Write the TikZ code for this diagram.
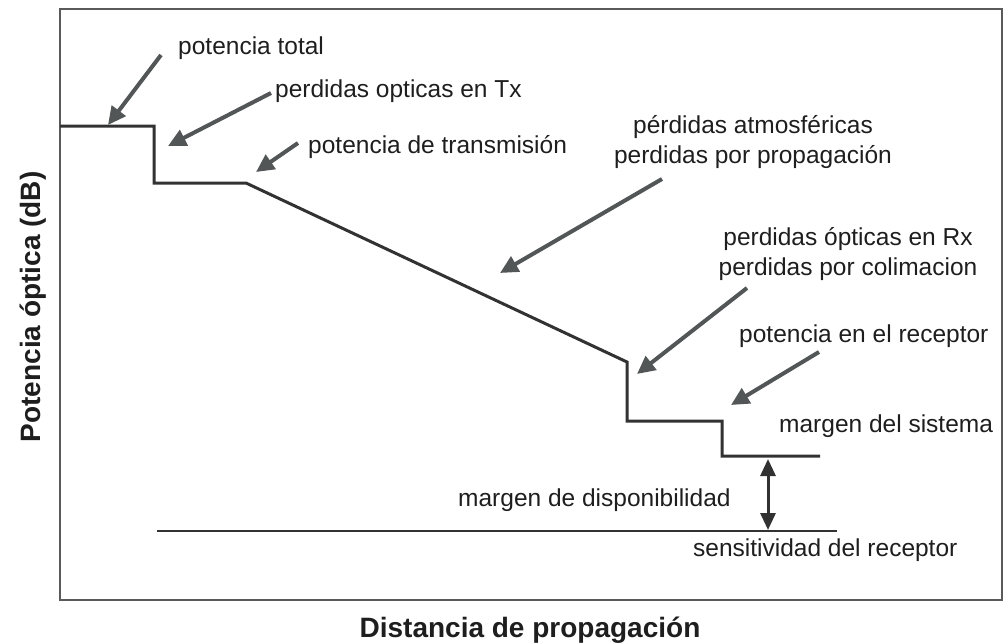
\documentclass[tikz,border=0pt]{standalone}
\usepackage{fontspec}
\setmainfont{Liberation Sans}
\usetikzlibrary{arrows.meta}
\definecolor{arrowgray}{RGB}{82,86,86}
\definecolor{linegray}{RGB}{50,50,50}
\definecolor{framegray}{RGB}{90,90,90}
\definecolor{textgray}{RGB}{30,30,30}
\tikzset{
  lbl/.style={inner sep=0pt, text=textgray, font=\fontsize{24.5}{30}\selectfont, anchor=base west},
  clbl/.style={inner sep=0pt, text=textgray, font=\fontsize{24.5}{30}\selectfont, align=center, anchor=base},
  axlbl/.style={inner sep=0pt, text=textgray, font=\fontsize{28}{32}\selectfont\bfseries, anchor=base},
  callout/.style={draw=arrowgray, line width=4pt, -{Triangle[length=18pt,width=17pt]}},
  stair/.style={draw=linegray, line width=3pt, line join=miter},
  dbl/.style={draw=linegray, line width=3pt, {Triangle[length=17pt,width=15pt]}-{Triangle[length=17pt,width=15pt]}},
}
\begin{document}
\begin{tikzpicture}[x=1pt,y=-1pt]
\useasboundingbox (0,0) rectangle (1005,643);
% frame
\draw[framegray, line width=1.5pt] (60,9) rectangle (1002,600);
% staircase
\coordinate (s0) at (60,126);
\coordinate (s1) at (154,126);
\coordinate (s2) at (154,183);
\coordinate (s3) at (246,183);
\coordinate (s4) at (627,362);
\coordinate (s5) at (627,421);
\coordinate (s6) at (722,421);
\coordinate (s7) at (722,456);
\coordinate (s8) at (820,456);
\draw[stair] (s0) -- (s1) -- (s2) -- (s3) -- (s4) -- (s5) -- (s6) -- (s7) -- (s8);
% sensitivity line
\coordinate (r0) at (157,531);
\coordinate (r1) at (837,531);
\draw[draw=linegray, line width=2.5pt] (r0) -- (r1);
% margin double arrow
\coordinate (m0) at (768,459);
\coordinate (m1) at (768,530);
\draw[dbl] (m0) -- (m1);
% labels
\node[lbl] (ptot) at (178,54) {potencia total};
\node[lbl] (ptx) at (275,97) {perdidas opticas en Tx};
\node[lbl] (ptr) at (308,153) {potencia de transmisión};
\node[clbl] (patm) at (753,163) {pérdidas atmosféricas\\perdidas por propagación};
\node[clbl] (prx) at (848,275) {perdidas ópticas en Rx\\perdidas por colimacion};
\node[lbl] (prec) at (739,342) {potencia en el receptor};
\node[lbl] (msis) at (779,432) {margen del sistema};
\node[lbl] (mdis) at (458,506) {margen de disponibilidad};
\node[lbl] (sens) at (693,556) {sensitividad del receptor};
\node[axlbl] (xl) at (530,637) {Distancia de propagación};
\node[axlbl, rotate=90] (yl) at (40,307) {Potencia óptica (dB)};
% callout arrows
\coordinate (a1t) at (161,55);  \coordinate (a1h) at (108,125);
\coordinate (a2t) at (271,93);  \coordinate (a2h) at (168,146);
\coordinate (a3t) at (298,143); \coordinate (a3h) at (256,172);
\coordinate (a4t) at (662,179); \coordinate (a4h) at (500,273);
\coordinate (a5t) at (747,288); \coordinate (a5h) at (637,374);
\coordinate (a6t) at (819,352); \coordinate (a6h) at (731,405);
\draw[callout] (a1t) -- (a1h);
\draw[callout] (a2t) -- (a2h);
\draw[callout] (a3t) -- (a3h);
\draw[callout] (a4t) -- (a4h);
\draw[callout] (a5t) -- (a5h);
\draw[callout] (a6t) -- (a6h);
\end{tikzpicture}
\end{document}
